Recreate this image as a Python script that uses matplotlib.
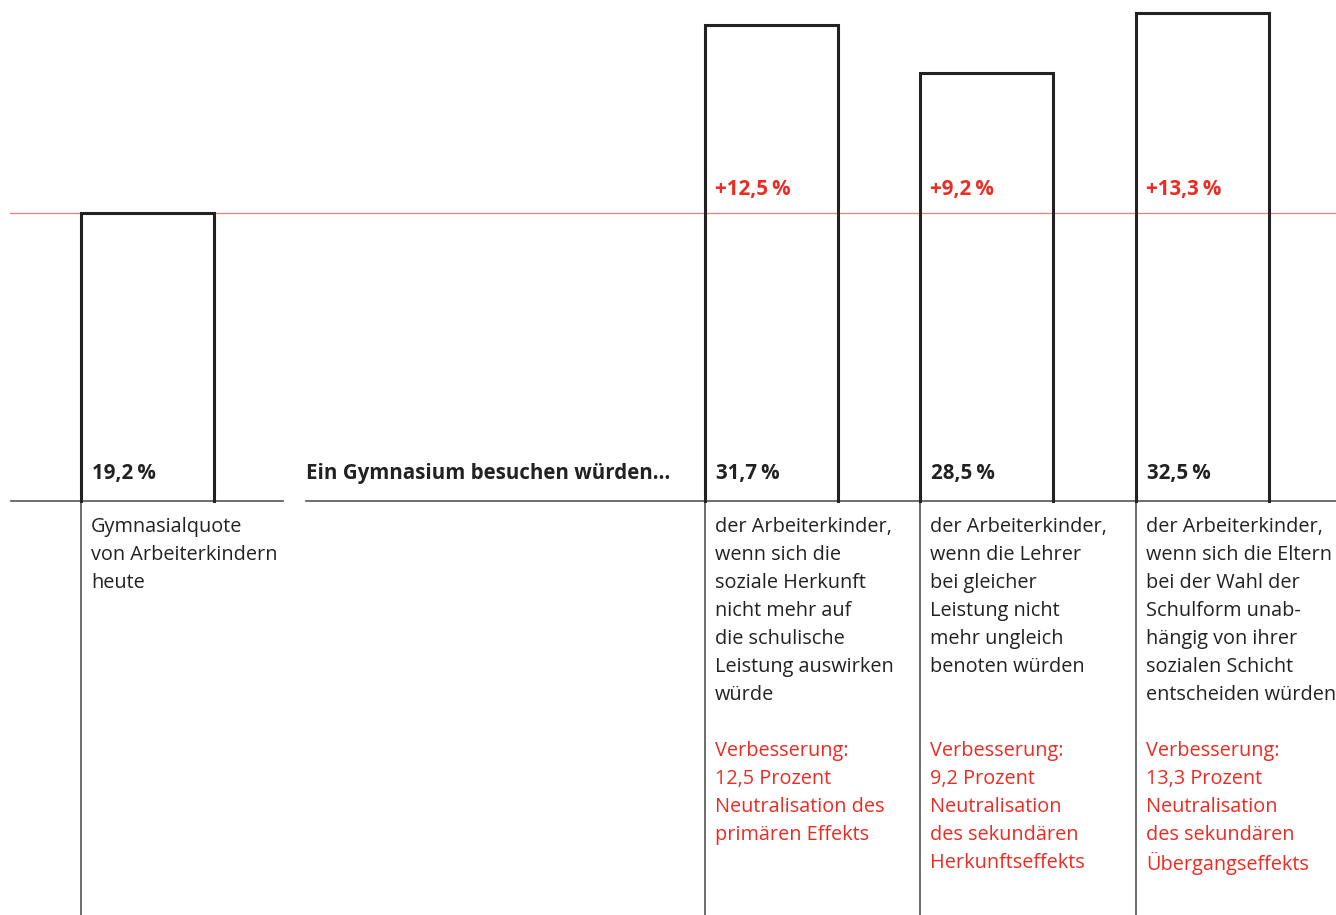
import matplotlib.pyplot as plt

plt.rcParams['font.family'] = ['Open Sans', 'DejaVu Sans']

# Gymnasium attendance of working-class children, in percent
values = [19.2, 31.7, 28.5, 32.5]
gains = ['', '+12,5\u2009%', '+9,2\u2009%', '+13,3\u2009%']
descriptions = [
    'Gymnasialquote\nvon Arbeiterkindern\nheute',
    'der Arbeiterkinder,\nwenn sich die\nsoziale Herkunft\nnicht mehr auf\ndie schulische\nLeistung auswirken\nwürde',
    'der Arbeiterkinder,\nwenn die Lehrer\nbei gleicher\nLeistung nicht\nmehr ungleich\nbenoten würden',
    'der Arbeiterkinder,\nwenn sich die Eltern\nbei der Wahl der\nSchulform unab-\nhängig von ihrer\nsozialen Schicht\nentscheiden würden',
]
notes = [
    '',
    'Verbesserung:\n12,5 Prozent\nNeutralisation des\nprimären Effekts',
    'Verbesserung:\n9,2 Prozent\nNeutralisation\ndes sekundären\nHerkunftseffekts',
    'Verbesserung:\n13,3 Prozent\nNeutralisation\ndes sekundären\nÜbergangseffekts',
]
intro = 'Ein Gymnasium besuchen würden…'

# layout (x in pixels, y in percent; 15 px per percent point)
lefts = [81, 705, 920, 1136]
bar_w = 133
W, H = 1336, 915
base_px = 501
scale = 15.0
FS = 14.3
FS_BOLD = 14.8


def py(p):
    """pixel row from the top -> data y"""
    return (base_px - p) / scale


BLACK = '#222222'
GREY = '#555555'
RED = '#ec2b22'
LINE_RED = '#f07e76'

fig = plt.figure(figsize=(W / 100, H / 100), dpi=100)
ax = fig.add_axes([0, 0, 1, 1])
ax.set_xlim(0, W)
ax.set_ylim(py(H), py(0))
ax.axis('off')

# reference level: today's rate
ax.plot([10, W], [values[0], values[0]], color=LINE_RED, lw=0.9, zorder=1)

# baseline, broken in front of the intro text
ax.plot([11, 283], [0, 0], color=GREY, lw=1.2, zorder=2)
ax.plot([306, W], [0, 0], color=GREY, lw=1.2, zorder=2)

for i, (x0, v) in enumerate(zip(lefts, values)):
    # open bar outline (no bottom edge)
    ax.plot([x0, x0, x0 + bar_w, x0 + bar_w], [0, v, v, 0],
            color=BLACK, lw=2.2, solid_joinstyle='miter', zorder=3)
    # leader line down to the caption
    ax.plot([x0, x0], [0, py(H)], color=GREY, lw=1.2, zorder=2)

    label = f'{v:.1f}'.replace('.', ',') + '\u2009%'
    ax.text(x0 + 11, py(474), label, fontsize=FS_BOLD, fontweight='bold',
            color=BLACK, va='center', ha='left')
    if gains[i]:
        ax.text(x0 + 10, py(190), gains[i], fontsize=FS_BOLD, fontweight='bold',
                color=RED, va='center', ha='left')

    for k, line in enumerate(descriptions[i].split('\n')):
        ax.text(x0 + 10, py(527 + 28 * k), line, fontsize=FS,
                color=BLACK, va='center', ha='left')
    for k, line in enumerate(notes[i].split('\n')):
        if line:
            ax.text(x0 + 10, py(751 + 28 * k), line, fontsize=FS,
                    color=RED, va='center', ha='left')

ax.text(306, py(474), intro, fontsize=FS_BOLD, fontweight='bold',
        color=BLACK, va='center', ha='left')

fig.savefig('out.png', dpi=100, facecolor='white')
